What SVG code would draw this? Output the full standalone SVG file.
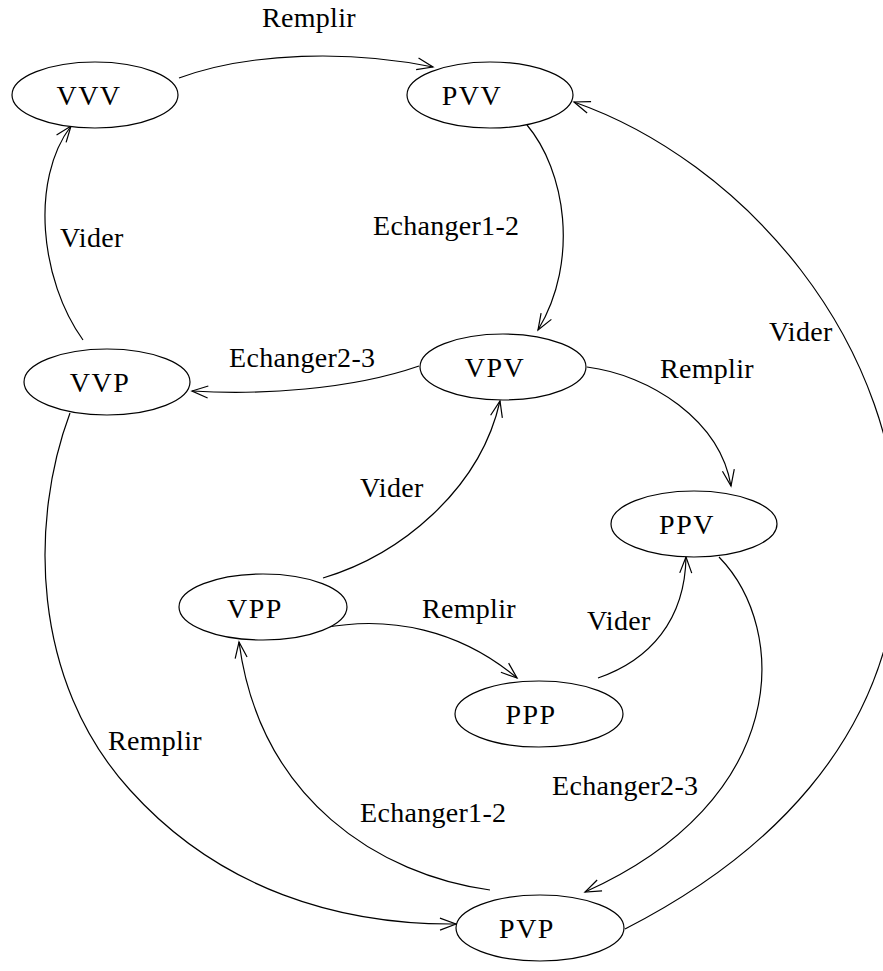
<svg xmlns="http://www.w3.org/2000/svg" width="883" height="971" viewBox="0 0 883 971">
<style>
  .node ellipse { fill: #fff; stroke: #000; stroke-width: 1.2; }
  .node text { font-family: "Liberation Serif", serif; font-size: 28px; text-anchor: middle; letter-spacing: 1.5px; fill: #000; }
  .edge { fill: none; stroke: #000; stroke-width: 1.2; marker-end: url(#arrow); }
  .lbl { font-family: "Liberation Serif", serif; font-size: 28px; letter-spacing: 0.3px; fill: #000; }
</style>
<defs>
  <marker id="arrow" markerUnits="userSpaceOnUse" viewBox="-17 -8 19 16" markerWidth="19" markerHeight="16" refX="0" refY="0" orient="auto">
    <path d="M-16,-6 L0,0 L-16,6" fill="none" stroke="#000" stroke-width="1.2"/>
  </marker>
</defs>
<rect width="883" height="971" fill="#fff"/>
<g id="connectors">
  <path class="edge" d="M179,78 C 250,52 350,50 433,67"/>
  <path class="edge" d="M527,125 C 565,170 580,260 538,330"/>
  <path class="edge" d="M625,929 C 760,860 890,745 899,560 C 905,340 740,160 574,102"/>
  <path class="edge" d="M419,366 C 350,390 260,395 192,391"/>
  <path class="edge" d="M587,367 C 650,375 720,420 731,486"/>
  <path class="edge" d="M83,340 C 40,280 30,180 71,126"/>
  <path class="edge" d="M70,413 C 30,520 30,680 130,790 C 220,890 340,925 456,924"/>
  <path class="edge" d="M323,578 C 400,555 480,490 500,401"/>
  <path class="edge" d="M323,628 C 390,615 460,630 517,678"/>
  <path class="edge" d="M598,678 C 650,660 685,620 686,557"/>
  <path class="edge" d="M719,557 C 790,630 790,800 585,892"/>
  <path class="edge" d="M490,890 C 380,875 260,800 239,642"/>
  <text class="lbl" x="262" y="27">Remplir</text>
  <text class="lbl" x="373" y="235">Echanger1-2</text>
  <text class="lbl" x="769" y="341">Vider</text>
  <text class="lbl" x="229" y="367">Echanger2-3</text>
  <text class="lbl" x="660" y="378">Remplir</text>
  <text class="lbl" x="60" y="247">Vider</text>
  <text class="lbl" x="108" y="750">Remplir</text>
  <text class="lbl" x="360" y="497">Vider</text>
  <text class="lbl" x="422" y="618">Remplir</text>
  <text class="lbl" x="587" y="630">Vider</text>
  <text class="lbl" x="552" y="795">Echanger2-3</text>
  <text class="lbl" x="360" y="822">Echanger1-2</text>
</g>
<g id="VVV" class="node"><ellipse cx="95" cy="95" rx="83" ry="33"/><text x="89" y="105">VVV</text></g>
<g id="PVV" class="node"><ellipse cx="490" cy="95" rx="83" ry="33"/><text x="472" y="105">PVV</text></g>
<g id="VVP" class="node"><ellipse cx="107" cy="382" rx="83" ry="33"/><text x="100" y="392">VVP</text></g>
<g id="VPV" class="node"><ellipse cx="503" cy="367" rx="83" ry="33"/><text x="495" y="377">VPV</text></g>
<g id="PPV" class="node"><ellipse cx="694" cy="524" rx="83" ry="33"/><text x="687" y="534">PPV</text></g>
<g id="VPP" class="node"><ellipse cx="263" cy="607" rx="84" ry="33"/><text x="255" y="618">VPP</text></g>
<g id="PPP" class="node"><ellipse cx="539" cy="714" rx="84" ry="33"/><text x="531" y="724">PPP</text></g>
<g id="PVP" class="node"><ellipse cx="540" cy="928" rx="84" ry="33"/><text x="527" y="938">PVP</text></g>
</svg>
